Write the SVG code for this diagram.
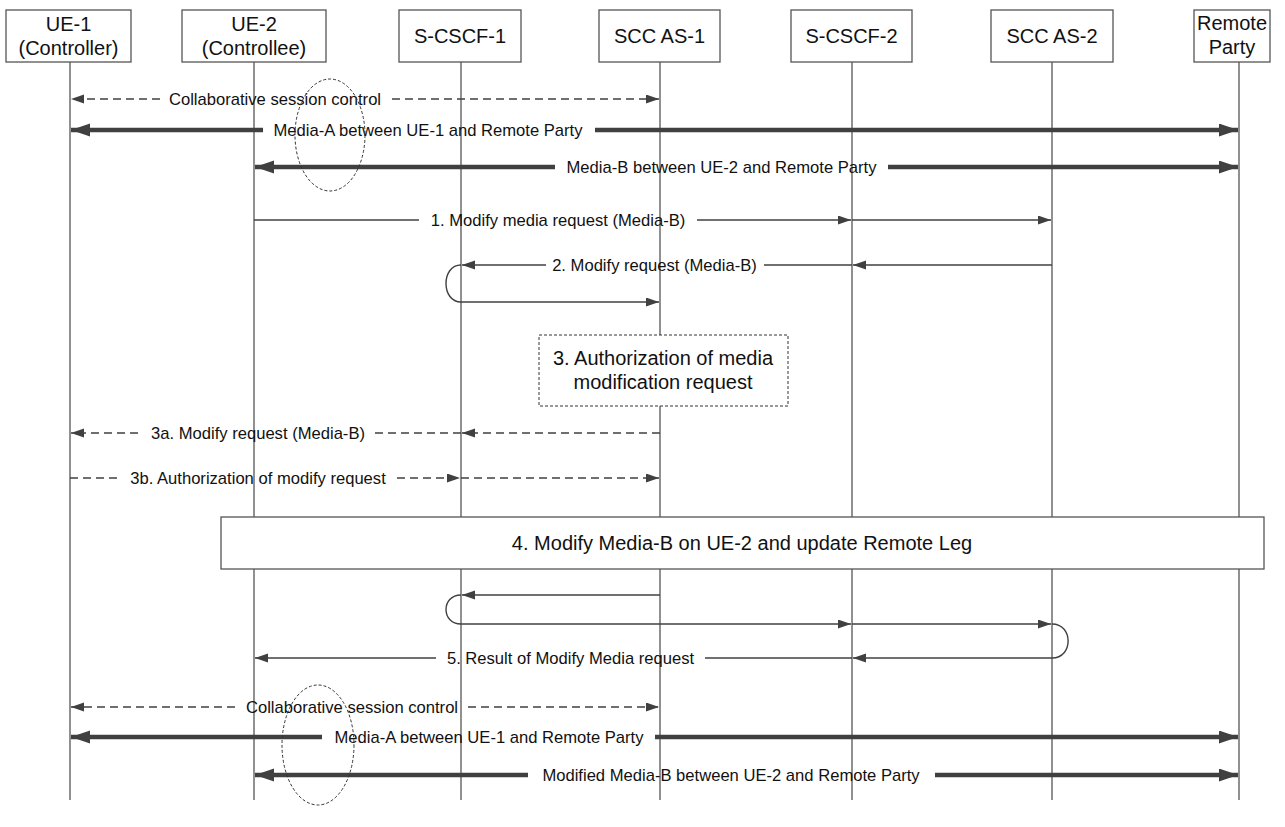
<svg xmlns="http://www.w3.org/2000/svg" width="1285" height="827" viewBox="0 0 1285 827">
<style>
.bg{fill:#fff}
.box{fill:#fff;stroke:#555;stroke-width:1.3}
.dbox{fill:#fff;stroke:#333;stroke-width:1;stroke-dasharray:3,2}
.life{stroke:#555;stroke-width:1.3;fill:none}
.ht{font-family:"Liberation Sans",Arial,sans-serif;font-size:20px;fill:#111;text-anchor:middle}
.ml{font-family:"Liberation Sans",Arial,sans-serif;font-size:16.6px;fill:#111;text-anchor:middle}
.thin{stroke:#404040;stroke-width:1.4;fill:none}
.dash{stroke:#404040;stroke-width:1.3;fill:none;stroke-dasharray:8,5}
.thick{stroke:#404040;stroke-width:4.5;fill:none}
.ell{fill:none;stroke:#333;stroke-width:1;stroke-dasharray:3,2}
</style>
<defs>
<marker id="a" markerUnits="userSpaceOnUse" markerWidth="14" markerHeight="10" refX="13" refY="4.5" orient="auto-start-reverse"><path d="M0,0 L13,4.5 L0,9 z" fill="#404040"/></marker>
<marker id="b" markerUnits="userSpaceOnUse" markerWidth="20" markerHeight="14" refX="19" refY="6.5" orient="auto-start-reverse"><path d="M0,0 L19,6.5 L0,13 z" fill="#404040"/></marker>
</defs>
<rect class="bg" x="0" y="0" width="1285" height="827"/>

<g id="lifelines">
<line class="life" x1="70" y1="62" x2="70" y2="800"/>
<line class="life" x1="254" y1="62" x2="254" y2="800"/>
<line class="life" x1="461" y1="62" x2="461" y2="800"/>
<line class="life" x1="660" y1="62" x2="660" y2="800"/>
<line class="life" x1="852" y1="62" x2="852" y2="800"/>
<line class="life" x1="1052" y1="62" x2="1052" y2="800"/>
<line class="life" x1="1239" y1="62" x2="1239" y2="800"/>
</g>

<g id="ue1"><rect class="box" x="6" y="10" width="125" height="52"/><text class="ht" x="68.5" y="31">UE-1</text><text class="ht" x="68.5" y="55">(Controller)</text></g>
<g id="ue2"><rect class="box" x="182" y="10" width="144" height="52"/><text class="ht" x="254" y="31">UE-2</text><text class="ht" x="254" y="55">(Controllee)</text></g>
<g id="scscf1"><rect class="box" x="399" y="10" width="122" height="52"/><text class="ht" x="460" y="43">S-CSCF-1</text></g>
<g id="sccas1"><rect class="box" x="599" y="10" width="121" height="52"/><text class="ht" x="659.5" y="43">SCC AS-1</text></g>
<g id="scscf2"><rect class="box" x="791" y="10" width="121" height="52"/><text class="ht" x="851.5" y="43">S-CSCF-2</text></g>
<g id="sccas2"><rect class="box" x="991" y="10" width="122" height="52"/><text class="ht" x="1052" y="43">SCC AS-2</text></g>
<g id="remote"><rect class="box" x="1194" y="10" width="76" height="52"/><text class="ht" x="1232" y="30">Remote</text><text class="ht" x="1232" y="54">Party</text></g>

<g id="connectors">
<!-- Collaborative session control (top) -->
<line class="dash" x1="160" y1="99" x2="71" y2="99" marker-end="url(#a)"/>
<line class="dash" x1="392" y1="99" x2="659" y2="99" marker-end="url(#a)"/>
<text class="ml" x="275" y="105">Collaborative session control</text>
<!-- Media-A top -->
<line class="thick" x1="263" y1="130" x2="71" y2="130" marker-end="url(#b)"/>
<line class="thick" x1="595" y1="130" x2="1238" y2="130" marker-end="url(#b)"/>
<text class="ml" x="428" y="136">Media-A between UE-1 and Remote Party</text>
<!-- Media-B top -->
<line class="thick" x1="555" y1="167" x2="255" y2="167" marker-end="url(#b)"/>
<line class="thick" x1="888" y1="167" x2="1238" y2="167" marker-end="url(#b)"/>
<text class="ml" x="721.5" y="173">Media-B between UE-2 and Remote Party</text>
<!-- 1 -->
<line class="thin" x1="254" y1="220" x2="419" y2="220"/>
<line class="thin" x1="697" y1="220" x2="851" y2="220" marker-end="url(#a)"/>
<line class="thin" x1="852" y1="220" x2="1051" y2="220" marker-end="url(#a)"/>
<text class="ml" x="558" y="226">1. Modify media request (Media-B)</text>
<!-- 2 -->
<line class="thin" x1="1052" y1="265" x2="853" y2="265" marker-end="url(#a)"/>
<line class="thin" x1="852" y1="265" x2="764" y2="265"/>
<line class="thin" x1="546" y1="265" x2="462" y2="265" marker-end="url(#a)"/>
<text class="ml" x="654.5" y="271">2. Modify request (Media-B)</text>
<path class="thin" d="M461,265 C441,265 441,302 461,302"/>
<line class="thin" x1="461" y1="302" x2="659" y2="302" marker-end="url(#a)"/>
<!-- 3a -->
<line class="dash" x1="660" y1="433" x2="462" y2="433" marker-end="url(#a)"/>
<line class="dash" x1="461" y1="433" x2="375" y2="433"/>
<line class="dash" x1="138" y1="433" x2="71" y2="433" marker-end="url(#a)"/>
<text class="ml" x="258" y="439">3a. Modify request (Media-B)</text>
<!-- 3b -->
<line class="dash" x1="70" y1="478" x2="120" y2="478"/>
<line class="dash" x1="397" y1="478" x2="460" y2="478" marker-end="url(#a)"/>
<line class="dash" x1="461" y1="478" x2="659" y2="478" marker-end="url(#a)"/>
<text class="ml" x="258" y="484">3b. Authorization of modify request</text>
<!-- after 4 -->
<line class="thin" x1="660" y1="595" x2="462" y2="595" marker-end="url(#a)"/>
<path class="thin" d="M461,595 C441,595 441,624 461,624"/>
<line class="thin" x1="461" y1="624" x2="851" y2="624" marker-end="url(#a)"/>
<line class="thin" x1="852" y1="624" x2="1051" y2="624" marker-end="url(#a)"/>
<path class="thin" d="M1052,624 C1073.5,624 1073.5,658 1052,658"/>
<!-- 5 -->
<line class="thin" x1="1052" y1="658" x2="853" y2="658" marker-end="url(#a)"/>
<line class="thin" x1="852" y1="658" x2="705" y2="658"/>
<line class="thin" x1="436" y1="658" x2="255" y2="658" marker-end="url(#a)"/>
<text class="ml" x="570.5" y="664">5. Result of Modify Media request</text>
<!-- Collaborative session control (bottom) -->
<line class="dash" x1="235" y1="707" x2="71" y2="707" marker-end="url(#a)"/>
<line class="dash" x1="468" y1="707" x2="659" y2="707" marker-end="url(#a)"/>
<text class="ml" x="352" y="713">Collaborative session control</text>
<!-- Media-A bottom -->
<line class="thick" x1="322" y1="737" x2="71" y2="737" marker-end="url(#b)"/>
<line class="thick" x1="655" y1="737" x2="1238" y2="737" marker-end="url(#b)"/>
<text class="ml" x="489" y="743">Media-A between UE-1 and Remote Party</text>
<!-- Modified Media-B -->
<line class="thick" x1="528" y1="775" x2="255" y2="775" marker-end="url(#b)"/>
<line class="thick" x1="935" y1="775" x2="1238" y2="775" marker-end="url(#b)"/>
<text class="ml" x="731" y="781">Modified Media-B between UE-2 and Remote Party</text>
</g>

<g id="step3"><rect class="dbox" x="539" y="335" width="249" height="71"/><text class="ht" x="663" y="365">3. Authorization of media</text><text class="ht" x="663" y="389">modification request</text></g>
<g id="step4"><rect class="box" x="221" y="517" width="1043" height="52"/><text class="ht" x="742" y="550">4. Modify Media-B on UE-2 and update Remote Leg</text></g>

<g id="ellipses">
<ellipse class="ell" cx="330" cy="135" rx="35" ry="56"/>
<ellipse class="ell" cx="318" cy="745" rx="36" ry="60"/>
</g>
</svg>
